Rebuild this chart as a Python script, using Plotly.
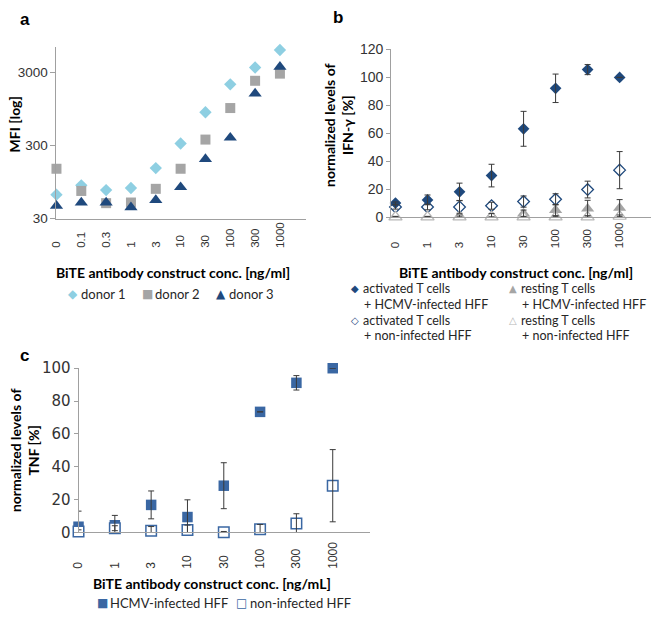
import math
import plotly.graph_objects as go

W, H = 652, 618

# ---------------- data ----------------
# panel a: MFI per donor (log scale)
conc_a = ["0", "0.1", "0.3", "1", "3", "10", "30", "100", "300", "1000"]
donor1 = [64, 86, 74, 79, 148, 322, 861, 2077, 3532, 6136]
donor2 = [145, 72, 49, 50, 77, 145, 364, 984, 2325, 2913]
donor3 = [45, 50, 50, 43, 54, 81, 197, 387, 1555, 3605]
mfi_ticks = [30, 300, 3000]

# panel b: normalized IFN-gamma [%]  (None = no error bar shown)
conc_b = ["0", "1", "3", "10", "30", "100", "300", "1000"]
ifn_act_hcmv = [10.0, 12.3, 18.1, 29.7, 63.2, 92.2, 105.6, 100]
ifn_act_hcmv_err = [0.8, 3.5, 6.2, 8.1, 12.5, 10.2, 3.6, None]
ifn_act_non = [7.2, 7.2, 7.2, 8.1, 11.1, 12.7, 19.7, 33.6]
ifn_act_non_err = [1.5, 2.0, 4.5, 2.5, 4.0, 4.0, 6.0, 13.3]
ifn_rest_hcmv = [0.0, 0.0, 0.5, 1.0, 2.5, 5.0, 6.0, 6.5]
ifn_rest_hcmv_err = [0.5, 0.5, 1.0, 1.5, 2.5, 4.0, 6.0, 6.0]
ifn_rest_non = [0.0, 0.0, 0.0, 0.0, 0.0, 0.0, 0.0, 0.5]
ifn_rest_non_err = [None, None, None, None, 0.5, 0.5, 1.0, 1.0]
ifn_ticks = [0, 20, 40, 60, 80, 100, 120]

# panel c: normalized TNF [%]
conc_c = ["0", "1", "3", "10", "30", "100", "300", "1000"]
tnf_hcmv = [3.4, 4.3, 16.7, 9.3, 28.4, 73.4, 91.1, 100]
tnf_hcmv_err = [9.5, 6.0, 8.5, 10.5, 14.0, None, 4.4, None]
tnf_non = [0.5, 2.5, 1.0, 1.4, 0.0, 1.8, 5.3, 28.4]
tnf_non_err = [1.0, 1.5, 2.5, 3.0, 0.5, 3.0, 6.0, 22.0]
tnf_ticks = [0, 20, 40, 60, 80, 100]

# ---------------- styles ----------------
C_D1 = "#8ECFE2"
C_GRAY = "#A5A5A5"
C_NAVY = "#1F497D"
C_BLUE = "#3A67A3"
C_OPEN_TRI = "#B8B8B8"
AX = "#A0A0A0"
TICK = "#333333"
ERR = "#3A3A3A"
ARIAL = "Liberation Sans, Arial, sans-serif"
CAL = "Lato, Carlito, Calibri, sans-serif"


def px(x):
    return x / W


def py(y):
    return 1 - y / H


def pad(lbl):
    # pad rotated category labels so that they share a common start (Excel style)
    units = sum(1 if ch == "." else 2 for ch in lbl)
    return lbl + "\u00a0" * (8 - units)


fig = go.Figure()


def add_markers(x, y, xa, ya, symbol, size, fill, line_col, line_w=0):
    fig.add_trace(go.Scatter(
        x=x, y=y, mode="markers", xaxis=xa, yaxis=ya, showlegend=False,
        cliponaxis=False,
        marker=dict(symbol=symbol, size=size, color=fill,
                    line=dict(color=line_col, width=line_w)),
        hoverinfo="skip"))


def add_errors(x, y, err, xa, ya):
    fig.add_trace(go.Scatter(
        x=x, y=y, mode="markers", xaxis=xa, yaxis=ya, showlegend=False,
        cliponaxis=True, marker=dict(size=1, color="rgba(0,0,0,0)"),
        error_y=dict(type="data", array=err, symmetric=True,
                     color=ERR, thickness=1, width=3),
        hoverinfo="skip"))


# panel a
xa_idx = list(range(len(conc_a)))
add_markers(xa_idx, donor1, "x", "y", "diamond", 9.5, C_D1, C_D1)
add_markers(xa_idx, donor2, "x", "y", "square", 10, C_GRAY, C_GRAY)
add_markers(xa_idx, donor3, "x", "y", "triangle-up", 11.5, C_NAVY, C_NAVY)

# panel b
xb_idx = list(range(len(conc_b)))
add_markers(xb_idx, ifn_act_hcmv, "x2", "y2", "diamond", 9, C_NAVY, C_NAVY)
add_markers(xb_idx, ifn_act_non, "x2", "y2", "diamond-open", 9, C_NAVY, C_NAVY, 1.3)
add_markers(xb_idx, ifn_rest_hcmv, "x2", "y2", "triangle-up", 11.5, C_GRAY, C_GRAY)
add_markers(xb_idx, ifn_rest_non, "x2", "y2", "triangle-up", 11.5, "white", C_OPEN_TRI, 1.2)
for yv, ev in [(ifn_act_hcmv, ifn_act_hcmv_err), (ifn_act_non, ifn_act_non_err),
               (ifn_rest_hcmv, ifn_rest_hcmv_err), (ifn_rest_non, ifn_rest_non_err)]:
    add_errors(xb_idx, yv, ev, "x2", "y2")

# panel c
xc_idx = list(range(len(conc_c)))
add_markers(xc_idx, tnf_hcmv, "x3", "y3", "square", 10.5, C_BLUE, C_BLUE)
add_markers(xc_idx, tnf_non, "x3", "y3", "square", 10.5, "white", C_BLUE, 1.5)
for yv, ev in [(tnf_hcmv, tnf_hcmv_err), (tnf_non, tnf_non_err)]:
    add_errors(xc_idx, yv, ev, "x3", "y3")

xcommon = dict(showline=True, linecolor=AX, linewidth=1, showgrid=False, zeroline=False,
               ticks="", tickangle=-90, tickfont=dict(family=ARIAL, size=11.5, color=TICK))
ycommon = dict(showline=True, linecolor=AX, linewidth=1, showgrid=False, zeroline=False,
               ticks="outside", tickcolor=AX, tickfont=dict(family=ARIAL, size=13.5, color=TICK))

fig.update_layout(
    width=W, height=H, margin=dict(l=0, r=0, t=0, b=0),
    paper_bgcolor="white", plot_bgcolor="white", showlegend=False,
    xaxis=dict(**xcommon, domain=[px(50), px(302)], anchor="y", range=[0, 10.04],
               tickmode="array", tickvals=xa_idx, ticktext=[pad(c) for c in conc_a],
               ticklabelstandoff=-2),
    yaxis=dict(**ycommon, domain=[py(216), py(39)], anchor="x", type="log",
               range=[math.log10(30), 3.831], tickmode="array", tickvals=mfi_ticks,
               ticktext=[str(t) for t in mfi_ticks], ticklen=5),
    xaxis2=dict(**xcommon, domain=[px(388.3), px(651)], anchor="y2", range=[-0.136, 7.98],
                tickmode="array", tickvals=xb_idx, ticktext=[pad(c) for c in conc_b],
                ticklabelstandoff=0),
    yaxis2=dict(**ycommon, domain=[py(214.3), py(41.7)], anchor="x2", range=[0, 120],
                tickmode="array", tickvals=ifn_ticks, ticklen=4),
    xaxis3=dict(**xcommon, domain=[px(72.3), px(366.7)], anchor="y3", range=[0, 8.02],
                tickmode="array", tickvals=xc_idx, ticktext=[pad(c) for c in conc_c],
                ticklabelstandoff=4),
    yaxis3=dict(**ycommon, domain=[py(539), py(370)], anchor="x3", range=[0, 100],
                tickmode="array", tickvals=tnf_ticks, ticklen=4),
)
fig.update_layout(yaxis2_tickfont=dict(family=ARIAL, size=14, color=TICK),
                  yaxis3_tickfont=dict(family="DejaVu Sans", size=15, color=TICK),
                  xaxis3_tickfont=dict(family=ARIAL, size=12, color=TICK))

ann = []


def text(x, y, s, size, family=CAL, bold=False, color="black", xanchor="left",
         angle=0, yanchor="middle"):
    ann.append(dict(x=px(x), y=py(y), xref="paper", yref="paper",
                    text=("<b>%s</b>" % s) if bold else s,
                    showarrow=False, xanchor=xanchor, yanchor=yanchor, textangle=angle,
                    font=dict(family=family, size=size, color=color)))


# panel letters
text(18, 11, "a", 17, family=ARIAL, bold=True, xanchor="center")
text(335, 9, "b", 17, family=ARIAL, bold=True, xanchor="center")
text(17.5, 357, "c", 17, family=ARIAL, bold=True, xanchor="center")

# axis titles
text(168, 271.5, "BiTE antibody construct conc. [ng/ml]", 14, bold=True, xanchor="center")
text(515, 271.5, "BiTE antibody construct conc. [ng/ml]", 14, bold=True, xanchor="center")
text(207.5, 591.5, "BiTE antibody construct conc. [ng/mL]", 14, bold=True, xanchor="center")
text(8, 119, "MFI [log]", 14, bold=True, xanchor="center", angle=-90)
text(335, 119, "normalized levels of<br>IFN-γ [%]", 14, bold=True, xanchor="center", angle=-90)
text(17.5, 454, "normalized levels of<br>TNF [%]", 14, bold=True, xanchor="center", angle=-90)

# legend a
SYM = "DejaVu Sans"
for sx, sym, col, lab in [(66.7, "◆", C_D1, "donor 1"), (141.7, "■", C_GRAY, "donor 2"),
                          (216.7, "▲", C_NAVY, "donor 3")]:
    text(sx, 294, sym, 12, family=SYM, color=col, xanchor="center")
    text(sx + 6, 294, lab, 13, color="#262626")

# legend b
for sx, sy, sym, col, l1, l2 in [
        (351.7, 288, "◆", C_NAVY, "activated T cells", "+ HCMV-infected HFF"),
        (511.7, 288, "▲", C_GRAY, "resting T cells", "+ HCMV-infected HFF"),
        (351.7, 320.5, "◇", C_NAVY, "activated T cells", "+ non-infected HFF"),
        (511.7, 320.5, "△", C_OPEN_TRI, "resting T cells", "+ non-infected HFF")]:
    text(sx, sy, sym, 10, family=SYM, color=col, xanchor="center")
    text(sx + 6, sy, l1, 12.5, color="#262626")
    text(sx + 7, sy + 16, l2, 12.5, color="#262626")

# legend c
text(96.5, 612, "■", 12, family=SYM, color=C_BLUE, xanchor="center")
text(102, 612, "HCMV-infected HFF", 13, color="#262626")
text(237.5, 612, "□", 12, family=SYM, color=C_BLUE, xanchor="center")
text(244, 612, "non-infected HFF", 13, color="#262626")

fig.update_layout(annotations=ann)
fig.write_html("out.html", config={"displayModeBar": False},
               post_script="document.body.style.margin='0';")
